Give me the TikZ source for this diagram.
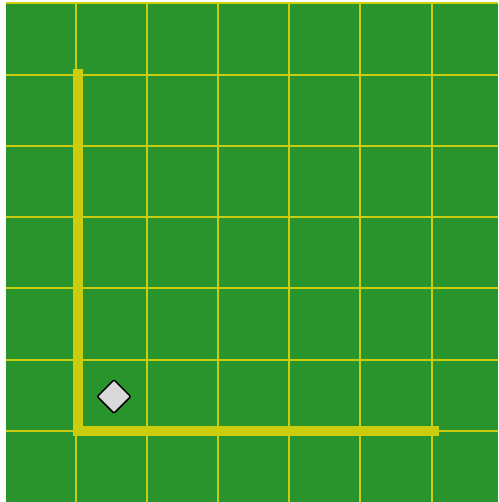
\documentclass[tikz,border=0pt]{standalone}
\usetikzlibrary{shapes.geometric}
\definecolor{fieldgreen}{RGB}{42,148,44}
\definecolor{lineyellow}{RGB}{204,204,14}
\definecolor{markgray}{RGB}{217,217,217}
\begin{document}
\begin{tikzpicture}[x=1pt, y=-1pt,
    gridline/.style={draw=lineyellow, line width=2pt},
    axisline/.style={draw=lineyellow, line width=10pt, line cap=rect},
    marker/.style={diamond, draw=black, fill=markgray, line width=1.5pt,
        rounded corners=1pt, minimum width=34pt, minimum height=34pt, inner sep=0pt}]
    \useasboundingbox (0,0) rectangle (498,502);
    \fill[fieldgreen] (5.5,3.5) rectangle (498,502);

    % grid
    \foreach \k in {1,...,6}
        \draw[gridline] (4.3+71.2*\k,3.5) -- (4.3+71.2*\k,502);
    \foreach \k in {0,...,6}
        \draw[gridline] (5.5,3.5+71.2*\k) -- (498,3.5+71.2*\k);

    % axes
    \coordinate (top) at (77.5,74.5);
    \coordinate (corner) at (77.5,430.5);
    \coordinate (right) at (434,430.5);
    \draw[axisline] (top) -- (corner) -- (right);

    \node[marker] (mark) at (114,396.5) {};
\end{tikzpicture}
\end{document}
